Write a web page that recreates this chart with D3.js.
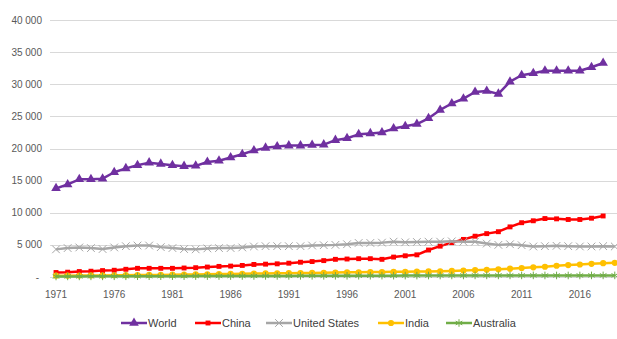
<!DOCTYPE html>
<html>
<head>
<meta charset="utf-8">
<script src="https://cdn.jsdelivr.net/npm/d3@7"></script>
<style>
  body { margin: 0; background: #fff; }
  svg { display: block; font-family: "Liberation Sans", Arial, sans-serif; }
</style>
</head>
<body>
<svg id="chart" width="617" height="339"></svg>
<script>
// years on the category axis
var years = d3.range(1971, 2020);
var tickYears = [1971, 1976, 1981, 1986, 1991, 1996, 2001, 2006, 2011, 2016];
var yTicks = [0, 5000, 10000, 15000, 20000, 25000, 30000, 35000, 40000];

// series (1971 onward)
var world = [13800, 14400, 15200, 15200, 15300, 16300, 16900, 17400, 17800, 17600,
  17400, 17250, 17300, 17900, 18100, 18600, 19100, 19700, 20100, 20300,
  20450, 20450, 20550, 20600, 21300, 21600, 22200, 22350, 22500, 23100,
  23450, 23800, 24700, 26000, 27000, 27750, 28800, 28950, 28500, 30400,
  31400, 31700, 32100, 32100, 32100, 32100, 32650, 33300];
var china = [700, 750, 850, 900, 1000, 1050, 1200, 1350, 1350, 1350,
  1350, 1400, 1450, 1550, 1650, 1700, 1800, 1950, 2000, 2050,
  2150, 2300, 2400, 2550, 2750, 2800, 2850, 2850, 2750, 3100,
  3300, 3450, 4200, 4800, 5350, 5850, 6350, 6750, 7050, 7800,
  8450, 8750, 9100, 9050, 8950, 8950, 9150, 9500];
var unitedStates = [4300, 4500, 4600, 4500, 4350, 4600, 4800, 4900, 4900, 4650,
  4500, 4350, 4300, 4450, 4500, 4500, 4600, 4750, 4800, 4800,
  4800, 4800, 4900, 4950, 5000, 5100, 5300, 5300, 5350, 5500,
  5400, 5450, 5500, 5500, 5550, 5500, 5500, 5200, 5000, 5100,
  4950, 4750, 4800, 4850, 4800, 4750, 4750, 4800, 4750];
var india = [200, 210, 220, 240, 250, 270, 280, 300, 320, 330,
  360, 380, 400, 420, 450, 480, 500, 530, 560, 580,
  600, 620, 640, 660, 700, 720, 740, 760, 780, 800,
  820, 840, 870, 900, 950, 1000, 1070, 1130, 1200, 1300,
  1400, 1500, 1600, 1750, 1850, 1950, 2050, 2150, 2200];
var australia = [80, 90, 90, 100, 100, 110, 110, 120, 120, 130,
  130, 130, 140, 140, 150, 150, 160, 160, 170, 170,
  170, 180, 180, 180, 190, 190, 200, 200, 210, 210,
  220, 220, 230, 230, 240, 240, 250, 250, 250, 250,
  250, 250, 240, 240, 240, 240, 250, 250, 250];

var seriesNames = ["World", "China", "United States", "India", "Australia"];
var seriesValues = [world, china, unitedStates, india, australia];

var colors = {"World": "#7030a0", "China": "#ff0000", "United States": "#a6a6a6",
  "India": "#ffc000", "Australia": "#70ad47"};
var symbols = {
  "World": d3.symbolTriangle,
  "China": d3.symbolSquare,
  "United States": d3.symbolTimes || d3.symbolCross,
  "India": d3.symbolCircle,
  "Australia": d3.symbolAsterisk || d3.symbolCross
};
var sizes = {"World": 40, "China": 24, "United States": 40, "India": 30, "Australia": 40};
var stroked = {"United States": true, "Australia": true};

var svg = d3.select('#chart');

var x = d3.scaleBand().domain(years).range([50.2, 620.6]);
var cx = function(yr) { return x(yr) + x.bandwidth() / 2; };
var y = d3.scaleLinear().domain([0, 40000]).range([277, 20]);

// GRIDLINES
svg.append('g').selectAll('line')
  .data(yTicks)
  .enter().append('line')
    .attr('x1', 50).attr('x2', 617)
    .attr('y1', function(d) { return Math.round(y(d)) + 0.5; })
    .attr('y2', function(d) { return Math.round(y(d)) + 0.5; })
    .attr('stroke', '#d9d9d9')
    .attr('stroke-width', 1);

// Y LABELS
var fmt = function(d) {
  if (d === 0) return '-';
  return d3.format(',')(d).replace(/,/g, ' ');
};
svg.append('g').selectAll('text')
  .data(yTicks)
  .enter().append('text')
    .attr('x', function(d) { return d === 0 ? 39 : 42; })
    .attr('y', function(d) { return y(d) + 3.5; })
    .attr('text-anchor', 'end')
    .attr('font-size', 10)
    .attr('fill', '#595959')
    .text(fmt);

// X LABELS
svg.append('g').selectAll('text')
  .data(tickYears)
  .enter().append('text')
    .attr('x', function(d) { return cx(d); })
    .attr('y', 298)
    .attr('text-anchor', 'middle')
    .attr('font-size', 10)
    .attr('fill', '#595959')
    .text(function(d) { return d; });

// SERIES
var line = d3.line()
  .x(function(d) { return cx(d.year); })
  .y(function(d) { return y(d.value); });

seriesNames.forEach(function(name, i) {
  var pts = seriesValues[i].map(function(v, j) { return {year: years[j], value: v}; });
  var g = svg.append('g').attr('class', 'series');
  g.append('path')
    .datum(pts)
    .attr('d', line)
    .attr('fill', 'none')
    .attr('stroke', colors[name])
    .attr('stroke-width', 2.5)
    .attr('stroke-linejoin', 'round');
  g.selectAll('path.mark')
    .data(pts)
    .enter().append('path')
      .attr('class', 'mark')
      .attr('transform', function(d) { return 'translate(' + cx(d.year) + ',' + y(d.value) + ')'; })
      .attr('d', d3.symbol().type(symbols[name]).size(sizes[name]))
      .attr('fill', stroked[name] ? 'none' : colors[name])
      .attr('stroke', stroked[name] ? colors[name] : 'none')
      .attr('stroke-width', 1);
});

// LEGEND
var legendX = [121, 195, 266, 378, 446];
var legend = svg.append('g');
seriesNames.forEach(function(name, i) {
  var lx = legendX[i], ly = 323;
  legend.append('line')
    .attr('x1', lx).attr('x2', lx + 26)
    .attr('y1', ly).attr('y2', ly)
    .attr('stroke', colors[name])
    .attr('stroke-width', 2.5);
  legend.append('path')
    .attr('transform', 'translate(' + (lx + 13) + ',' + ly + ')')
    .attr('d', d3.symbol().type(symbols[name]).size(sizes[name]))
    .attr('fill', stroked[name] ? 'none' : colors[name])
    .attr('stroke', stroked[name] ? colors[name] : 'none')
    .attr('stroke-width', 1);
  legend.append('text')
    .attr('x', lx + 27)
    .attr('y', ly + 4)
    .attr('font-size', 11)
    .attr('fill', '#404040')
    .text(name);
});
</script>
</body>
</html>
